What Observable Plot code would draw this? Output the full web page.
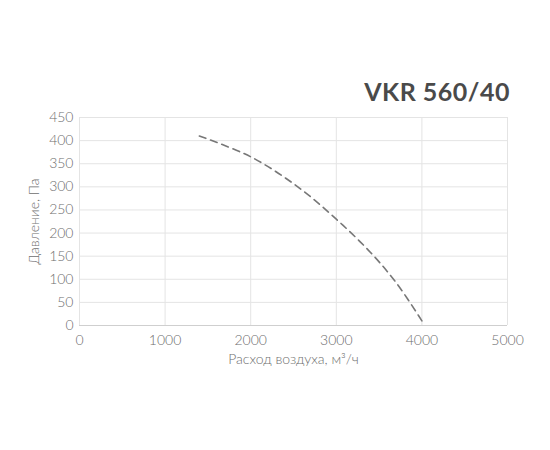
<!DOCTYPE html>
<html><head><meta charset="utf-8">
<script src="https://cdn.jsdelivr.net/npm/d3@7"></script>
<script src="https://cdn.jsdelivr.net/npm/@observablehq/plot@0.6"></script>
<style>
body{margin:0;background:#fff;}
#wrap{position:relative;width:550px;height:450px;}
#title{position:absolute;right:40px;top:76px;font-family:"Lato","DejaVu Sans",sans-serif;font-weight:700;font-size:25px;color:#4a4a4a;letter-spacing:0.5px;}
svg{font-family:"Lato","DejaVu Sans",sans-serif;font-weight:300;}
</style></head>
<body><div id="wrap"><div id="title">VKR 560/40</div></div>
<script>
const title = "VKR 560/40";
const airflow = [1400, 2000, 2550, 3000, 3400, 3710, 4000];
const pressure = [410, 365, 300, 230, 158, 90, 10];
const xTicks = [0, 1000, 2000, 3000, 4000, 5000];
const yTicks = [0, 50, 100, 150, 200, 250, 300, 350, 400, 450];
const xLabel = "Расход воздуха, м³/ч";
const yLabel = "Давление, Па";

const data = airflow.map((x, i) => ({x, y: pressure[i]}));
const chart = Plot.plot({
  width: 550, height: 450,
  marginLeft: 79, marginRight: 43, marginTop: 117, marginBottom: 125,
  style: {fontSize: "14px", color: "#6e6e6e", background: "transparent"},
  x: {domain: [0, 5000], ticks: xTicks, tickFormat: d => String(d), tickSize: 0, tickPadding: 10, label: xLabel, labelAnchor: "center", labelArrow: "none", labelOffset: 38},
  y: {domain: [0, 450], ticks: yTicks, tickFormat: d => String(d), tickSize: 0, tickPadding: 6, label: yLabel, labelAnchor: "center", labelArrow: "none", labelOffset: 50},
  marks: [
    Plot.gridX(xTicks, {stroke: "#e4e4e4", strokeOpacity: 1}),
    Plot.gridY(yTicks, {stroke: "#e4e4e4", strokeOpacity: 1}),
    Plot.ruleY([0], {stroke: "#cfcfcf"}),
    Plot.line(data, {x: "x", y: "y", curve: "catmull-rom", stroke: "#777", strokeWidth: 1.6, strokeDasharray: "7,5"})
  ]
});
document.getElementById("wrap").prepend(chart);
</script>
</body></html>
